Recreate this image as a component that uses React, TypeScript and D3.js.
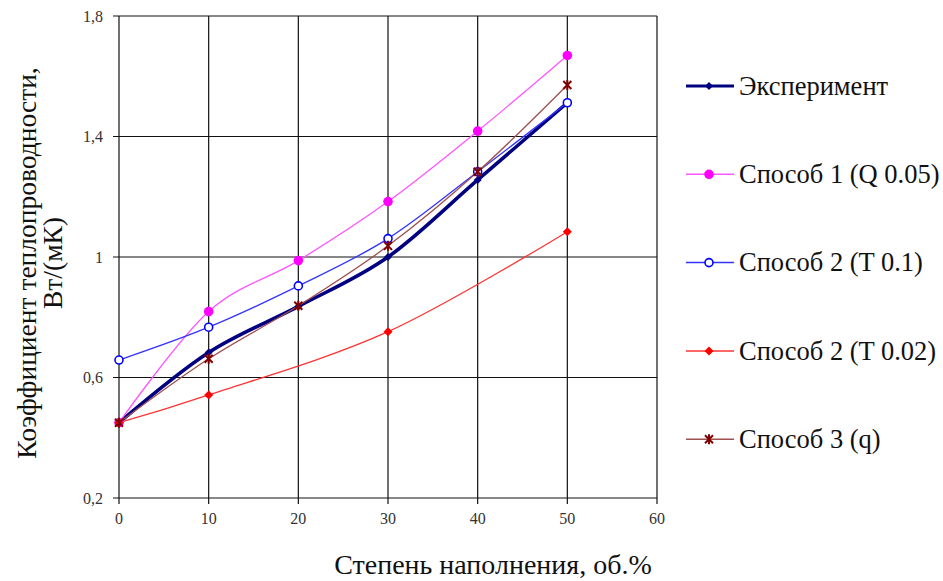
import React from "react";
import * as d3 from "d3";

const xValues = [0, 10, 20, 30, 40, 50];
const experiment = [0.45, 0.683, 0.836, 1.0, 1.256, 1.512];
const method1 = [0.45, 0.819, 0.988, 1.184, 1.418, 1.669];
const method2a = [0.658, 0.767, 0.904, 1.061, 1.283, 1.512];
const method2bX = [0, 10, 30, 50];
const method2b = [0.45, 0.542, 0.752, 1.084];
const method3 = [0.45, 0.662, 0.838, 1.037, 1.283, 1.571];
const xTicks = [0, 10, 20, 30, 40, 50, 60];
const yTicks = [0.2, 0.6, 1.0, 1.4, 1.8];
const seriesNames = [
  "Эксперимент",
  "Способ 1 (Q 0.05)",
  "Способ 2 (T 0.1)",
  "Способ 2 (T 0.02)",
  "Способ 3 (q)",
];

type Pt = [number, number];

const FONT = "Liberation Serif";

function Marker({ kind, x, y, color }: { kind: string; x: number; y: number; color: string }) {
  if (kind === "diamond") {
    const s = 4.5;
    return <path d={`M${x},${y - s}L${x + s},${y}L${x},${y + s}L${x - s},${y}Z`} fill={color} />;
  }
  if (kind === "smalldiamond") {
    const s = 4;
    return <path d={`M${x},${y - s}L${x + s},${y}L${x},${y + s}L${x - s},${y}Z`} fill={color} />;
  }
  if (kind === "circle") return <circle cx={x} cy={y} r={4.8} fill={color} />;
  if (kind === "open") return <circle cx={x} cy={y} r={4} fill="white" stroke={color} strokeWidth={1.6} />;
  if (kind === "star") {
    const s = 4;
    return (
      <g stroke={color} strokeWidth={2}>
        <line x1={x - s} y1={y - s} x2={x + s} y2={y + s} />
        <line x1={x - s} y1={y + s} x2={x + s} y2={y - s} />
        <line x1={x} y1={y - s - 1} x2={x} y2={y + s + 1} />
      </g>
    );
  }
  return null;
}

export default function App() {
  const W = 943;
  const H = 581;
  const x = d3.scaleLinear().domain([0, 60]).range([119, 657]);
  const y = d3.scaleLinear().domain([0.2, 1.8]).range([498, 16]);
  const line = d3
    .line<Pt>()
    .x((d) => x(d[0]))
    .y((d) => y(d[1]))
    .curve(d3.curveCardinal.tension(0));

  const series = [
    { name: seriesNames[0], xs: xValues, ys: experiment, color: "#000080", width: 3.5, marker: "smalldiamond", mcolor: "#000080" },
    { name: seriesNames[1], xs: xValues, ys: method1, color: "#FF55FF", width: 1.3, marker: "circle", mcolor: "#FF00FF" },
    { name: seriesNames[2], xs: xValues, ys: method2a, color: "#3333FF", width: 1.3, marker: "open", mcolor: "#0000FF" },
    { name: seriesNames[3], xs: method2bX, ys: method2b, color: "#FF3333", width: 1.3, marker: "diamond", mcolor: "#FF0000" },
    { name: seriesNames[4], xs: xValues, ys: method3, color: "#A05050", width: 1.3, marker: "star", mcolor: "#800000" },
  ];

  const fmt = (v: number) => (Math.abs(v - 1) < 1e-9 ? "1" : d3.format(".1f")(v).replace(".", ","));

  return (
    <svg width={W} height={H} style={{ display: "block", position: "absolute", left: 0, top: 0, background: "white" }}>
      <rect x={0} y={0} width={W} height={H} fill="white" />
      {xTicks.map((t) => (
        <line key={"gx" + t} x1={x(t)} x2={x(t)} y1={y(1.8)} y2={y(0.2) + 6} stroke="#111" strokeWidth={1.2} />
      ))}
      {yTicks.map((t) => (
        <line key={"gy" + t} x1={x(0) - 6} x2={x(60)} y1={y(t)} y2={y(t)} stroke="#111" strokeWidth={1.2} />
      ))}
      {yTicks.map((t) => (
        <text key={"ty" + t} x={103} y={y(t)} dy="0.35em" textAnchor="end" fontFamily={FONT} fontSize={16} fill="#333">
          {fmt(t)}
        </text>
      ))}
      {xTicks.map((t) => (
        <text key={"tx" + t} x={x(t)} y={518} dy="0.35em" textAnchor="middle" fontFamily={FONT} fontSize={16} fill="#333">
          {t}
        </text>
      ))}
      {series.map((s) => (
        <path
          key={"l" + s.name}
          d={line(s.xs.map((v, i) => [v, s.ys[i]] as Pt)) || ""}
          fill="none"
          stroke={s.color}
          strokeWidth={s.width}
        />
      ))}
      {series.map((s) => (
        <g key={"m" + s.name}>
          {s.xs.map((v, i) => (
            <Marker key={i} kind={s.marker} x={x(v)} y={y(s.ys[i])} color={s.mcolor} />
          ))}
        </g>
      ))}
      {series.map((s, i) => {
        const ly = 86 + i * 88.3;
        return (
          <g key={"lg" + s.name}>
            <line x1={686} x2={734} y1={ly} y2={ly} stroke={s.color} strokeWidth={s.width === 3.5 ? 3 : 1.5} />
            <Marker kind={s.marker} x={709} y={ly} color={s.mcolor} />
            <text x={739} y={ly} dy="0.33em" fontFamily={FONT} fontSize={26.5} fill="#111">
              {s.name}
            </text>
          </g>
        );
      })}
      <text x={493} y={565} dy="0.33em" textAnchor="middle" fontFamily={FONT} fontSize={28} fill="#111">
        Степень наполнения, об.%
      </text>
      <g transform="translate(0,263) rotate(-90)">
        <text x={0} y={36} textAnchor="middle" fontFamily={FONT} fontSize={27.5} fill="#111">
          Коэффициент теплопроводности,
        </text>
        <text x={0} y={62} textAnchor="middle" fontFamily={FONT} fontSize={27.5} fill="#111">
          Вт/(мК)
        </text>
      </g>
    </svg>
  );
}
